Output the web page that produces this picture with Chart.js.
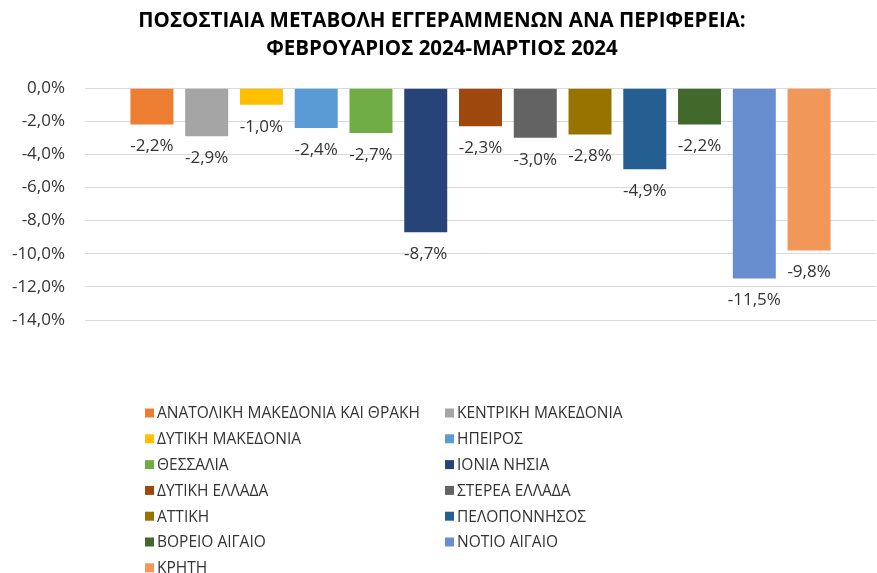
<!DOCTYPE html>
<html>
<head>
<meta charset="utf-8">
<script src="https://cdn.jsdelivr.net/npm/chart.js@4"></script>
<style>
  html, body { margin: 0; padding: 0; background: #fff; }
  #wrap { width: 877px; height: 573px; position: relative; }
</style>
</head>
<body>
<div id="wrap"><canvas id="chart"></canvas></div>
<script>
const regions = [
  "ΑΝΑΤΟΛΙΚΗ ΜΑΚΕΔΟΝΙΑ ΚΑΙ ΘΡΑΚΗ", "ΚΕΝΤΡΙΚΗ ΜΑΚΕΔΟΝΙΑ", "ΔΥΤΙΚΗ ΜΑΚΕΔΟΝΙΑ",
  "ΗΠΕΙΡΟΣ", "ΘΕΣΣΑΛΙΑ", "ΙΟΝΙΑ ΝΗΣΙΑ", "ΔΥΤΙΚΗ ΕΛΛΑΔΑ", "ΣΤΕΡΕΑ ΕΛΛΑΔΑ",
  "ΑΤΤΙΚΗ", "ΠΕΛΟΠΟΝΝΗΣΟΣ", "ΒΟΡΕΙΟ ΑΙΓΑΙΟ", "ΝΟΤΙΟ ΑΙΓΑΙΟ", "ΚΡΗΤΗ"
];
const changes = [-2.2, -2.9, -1.0, -2.4, -2.7, -8.7, -2.3, -3.0, -2.8, -4.9, -2.2, -11.5, -9.8];
const colors = [
  "#ED7D31", "#A5A5A5", "#FFC000", "#5B9BD5", "#70AD47", "#264478", "#9E480E",
  "#636363", "#997300", "#255E91", "#43682B", "#698ED0", "#F1975A"
];
const yTicks = [0, -2, -4, -6, -8, -10, -12, -14];

const FONT = "'Open Sans', sans-serif";
const TEXT = "#333333";

const fmt = v => v.toFixed(1).replace(".", ",") + "%";

// value labels under each bar
const valueLabels = {
  id: "valueLabels",
  afterDatasetsDraw(chart) {
    const ctx = chart.ctx;
    ctx.save();
    ctx.font = "17px " + FONT;
    ctx.fillStyle = TEXT;
    ctx.textAlign = "center";
    ctx.textBaseline = "middle";
    chart.data.datasets.forEach((ds, i) => {
      const bar = chart.getDatasetMeta(i).data[0];
      ctx.fillText(fmt(ds.data[0]), bar.x, bar.y + 22);
    });
    ctx.restore();
  }
};

// two-column legend
const gridLegend = {
  id: "gridLegend",
  afterDraw(chart) {
    const ctx = chart.ctx;
    ctx.save();
    ctx.font = "15.5px " + FONT;
    ctx.textBaseline = "middle";
    chart.data.datasets.forEach((ds, i) => {
      const col = i % 2, row = Math.floor(i / 2);
      const x = col === 0 ? 145 : 445;
      const y = 413 + row * 25.8;
      ctx.fillStyle = ds.backgroundColor;
      ctx.fillRect(x, y - 4.5, 9, 9);
      ctx.fillStyle = TEXT;
      ctx.fillText(ds.label, x + 12, y + 1);
    });
    ctx.restore();
  }
};

new Chart(document.getElementById("chart"), {
  type: "bar",
  data: {
    labels: [""],
    datasets: regions.map((r, i) => ({
      label: r,
      data: [changes[i]],
      backgroundColor: colors[i]
    }))
  },
  options: {
    responsive: true,
    maintainAspectRatio: false,
    animation: false,
    categoryPercentage: 0.9,
    barPercentage: 0.785,
    layout: { padding: { left: 8, right: 1, top: 0, bottom: 253 } },
    scales: {
      x: { display: false },
      y: {
        min: -14,
        max: 0,
        afterBuildTicks: axis => { axis.ticks = yTicks.map(v => ({ value: v })); },
        afterFit: axis => { axis.width = 77; },
        ticks: {
          padding: 20,
          color: TEXT,
          font: { family: FONT, size: 17 },
          callback: v => fmt(v)
        },
        grid: { color: "#D9D9D9", drawTicks: false },
        border: { display: false }
      }
    },
    plugins: {
      legend: { display: false },
      tooltip: { enabled: false },
      title: {
        display: true,
        text: ["ΠΟΣΟΣΤΙΑΙΑ ΜΕΤΑΒΟΛΗ ΕΓΓΕΡΑΜΜΕΝΩΝ ΑΝΑ ΠΕΡΙΦΕΡΕΙΑ:", "ΦΕΒΡΟΥΑΡΙΟΣ 2024-ΜΑΡΤΙΟΣ 2024"],
        color: "#000",
        font: { family: FONT, size: 20.5, weight: "bold", lineHeight: 1.37 },
        padding: { top: 7, bottom: 25 }
      }
    }
  },
  plugins: [valueLabels, gridLegend]
});
</script>
</body>
</html>
